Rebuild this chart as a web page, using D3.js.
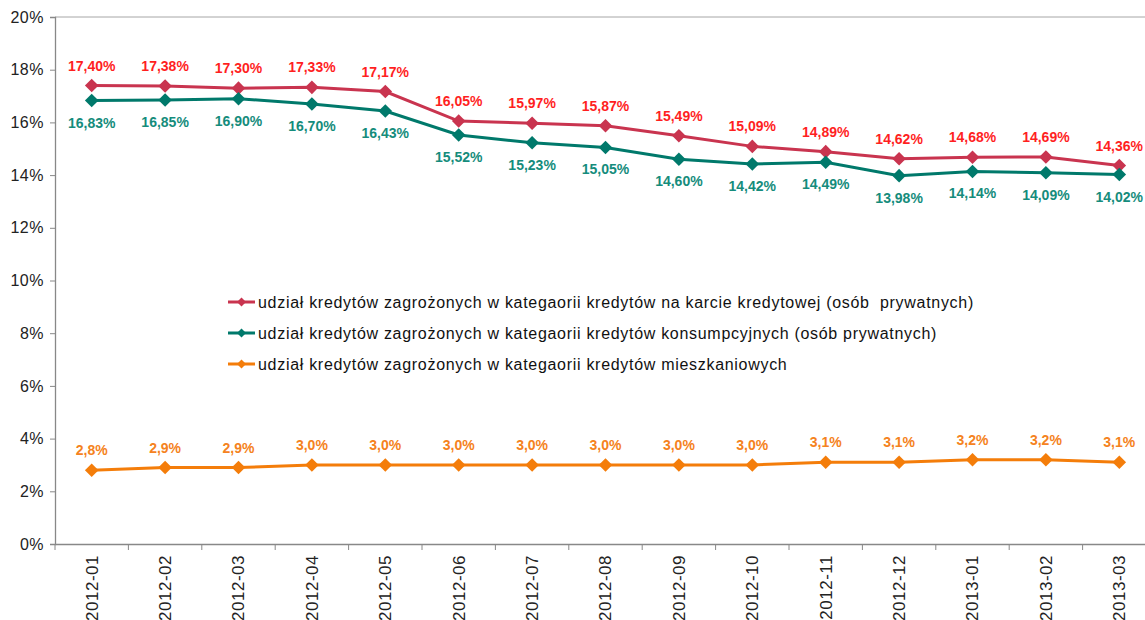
<script src="https://d3js.org/d3.v7.min.js"></script>
<style>
  body { margin: 0; background: #fff; }
  svg text { font-family: "Liberation Sans", Arial, sans-serif; }
</style>
<svg id="chart"></svg>
<script>
  // miesiące
  var months = ["2012-01","2012-02","2012-03","2012-04","2012-05","2012-06","2012-07","2012-08",
                "2012-09","2012-10","2012-11","2012-12","2013-01","2013-02","2013-03"];

  var kartyVals = [17.40,17.38,17.30,17.33,17.17,16.05,15.97,15.87,15.49,15.09,14.89,14.62,14.68,14.69,14.36];
  var konsVals  = [16.83,16.85,16.90,16.70,16.43,15.52,15.23,15.05,14.60,14.42,14.49,13.98,14.14,14.09,14.02];
  var mieszVals = [2.8,2.9,2.9,3.0,3.0,3.0,3.0,3.0,3.0,3.0,3.1,3.1,3.2,3.2,3.1];

  var yTicks = [0,2,4,6,8,10,12,14,16,18,20];

  var seriesNames = [
    "udział kredytów zagrożonych w kategaorii kredytów na karcie kredytowej (osób  prywatnych)",
    "udział kredytów zagrożonych w kategaorii kredytów konsumpcyjnych (osób prywatnych)",
    "udział kredytów zagrożonych w kategaorii kredytów mieszkaniowych"
  ];

  (function() {
  var W = 1145, H = 620;
  var mLeft = 55, mTop = 17, mBottom = 544, mRight = 1156;

  var svg = d3.select('#chart').attr('width', W).attr('height', H);

  var x = d3.scaleBand().domain(months).range([mLeft, mRight]);
  var y = d3.scaleLinear().domain([0, 20]).range([mBottom, mTop]);

  // top border
  svg.append('line')
    .attr('x1', mLeft).attr('x2', mRight).attr('y1', mTop).attr('y2', mTop)
    .attr('stroke', '#a6a6a6').attr('stroke-width', 1);

  // y axis
  var yAxis = svg.append('g')
    .attr('transform', 'translate(' + mLeft + ',0)')
    .call(d3.axisLeft(y).tickValues(yTicks).tickSize(5).tickPadding(6)
      .tickFormat(function(d) { return d + '%'; }));
  yAxis.select('.domain').attr('stroke', '#888').attr('stroke-width', 1.3);
  yAxis.selectAll('.tick line').attr('stroke', '#888');
  yAxis.selectAll('text').attr('font-size', 16).attr('letter-spacing', '0.5px').attr('fill', '#222');

  // x axis
  var xAxis = svg.append('g')
    .attr('transform', 'translate(0,' + mBottom + ')')
    .call(d3.axisBottom(x).tickSize(0).tickPadding(0));
  xAxis.select('.domain').attr('stroke', '#888').attr('stroke-width', 1.3);
  xAxis.selectAll('.tick line').remove();
  xAxis.selectAll('text')
    .attr('font-size', 17).attr('letter-spacing', '0.5px').attr('fill', '#222')
    .attr('transform', 'rotate(-90)')
    .attr('x', -11).attr('y', 0).attr('dy', '0.35em')
    .attr('text-anchor', 'end');
  // ticks between categories
  var bounds = months.map(function(m) { return x(m); }).concat([mRight]);
  svg.append('g').selectAll('line')
    .data(bounds).enter().append('line')
    .attr('x1', function(d) { return d; }).attr('x2', function(d) { return d; })
    .attr('y1', mBottom).attr('y2', mBottom + 6)
    .attr('stroke', '#888');

  var series = [
    { vals: kartyVals, line: '#C9344F', label: '#FF1F1F', fmt: function(v){ return v.toFixed(2).replace('.', ',') + '%'; }, dy: -15 },
    { vals: konsVals,  line: '#00796B', label: '#158C7C', fmt: function(v){ return v.toFixed(2).replace('.', ',') + '%'; }, dy: 27 },
    { vals: mieszVals, line: '#F47D0A', label: '#F58220', fmt: function(v){ return v.toFixed(1).replace('.', ',') + '%'; }, dy: -15 }
  ];

  var cx = function(i) { return x(months[i]) + x.bandwidth() / 2; };
  var diamond = d3.symbol().type(d3.symbolSquare).size(92);
  var lineGen = d3.line().x(function(d, i) { return cx(i); }).y(function(d) { return y(d); });

  series.forEach(function(s) {
    svg.append('path')
      .attr('d', lineGen(s.vals))
      .attr('fill', 'none').attr('stroke', s.line).attr('stroke-width', 3);

    svg.append('g').selectAll('path')
      .data(s.vals).enter().append('path')
      .attr('d', diamond)
      .attr('fill', s.line)
      .attr('transform', function(d, i) { return 'translate(' + cx(i) + ',' + y(d) + ') rotate(45)'; });

    svg.append('g').selectAll('text')
      .data(s.vals).enter().append('text')
      .attr('x', function(d, i) { return cx(i); })
      .attr('y', function(d) { return y(d) + s.dy; })
      .attr('text-anchor', 'middle')
      .attr('font-size', 14).attr('font-weight', 'bold')
      .attr('fill', s.label)
      .text(s.fmt);
  });

  // legend
  var legend = svg.append('g').attr('transform', 'translate(228,302)');
  seriesNames.forEach(function(name, i) {
    var g = legend.append('g').attr('transform', 'translate(0,' + i * 31 + ')');
    g.append('line').attr('x1', 0).attr('x2', 27).attr('y1', 0).attr('y2', 0)
      .attr('stroke', series[i].line).attr('stroke-width', 3);
    g.append('path').attr('d', d3.symbol().type(d3.symbolSquare).size(40))
      .attr('transform', 'translate(13.5,0) rotate(45)')
      .attr('fill', series[i].line);
    g.append('text').attr('x', 30).attr('y', 0).attr('dy', '0.35em')
      .attr('font-size', 16).attr('letter-spacing', '0.7px').attr('fill', '#111')
      .attr('xml:space', 'preserve')
      .text(name);
  });
  })();
</script>
